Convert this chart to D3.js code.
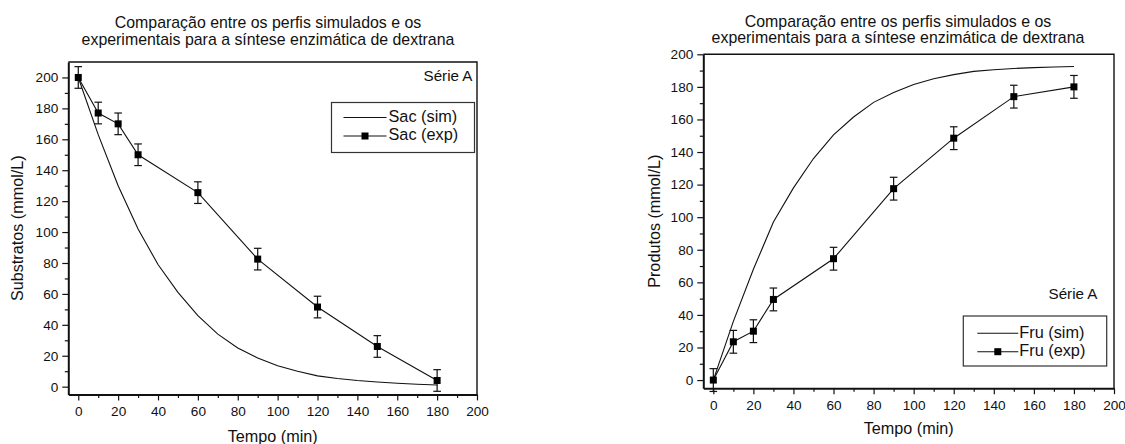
<!DOCTYPE html>
<html>
<head>
<meta charset="utf-8">
<script src="https://cdn.jsdelivr.net/npm/d3@7"></script>
<style>
  html, body { margin: 0; padding: 0; background: #fff; }
  svg { display: block; font-family: "Liberation Sans", Arial, Helvetica, sans-serif; }
</style>
</head>
<body>
<svg id="chart" width="1125" height="444"></svg>
<script>
// Time grid of the simulated profiles (min)
const tempoSim = [0, 10, 20, 30, 40, 50, 60, 70, 80, 90, 100, 110, 120, 130, 140, 150, 160, 170, 180];
// Sucrose consumption, simulated (mmol/L)
const sacSim = [200, 163, 130, 102, 79, 61, 46, 34, 25, 18.5, 13.5, 10, 7, 5.3, 4, 3, 2.2, 1.6, 1.1];
// Fructose formation, simulated (mmol/L)
const fruSim = [0, 36, 68, 97, 118, 136, 150.5, 161.5, 170.5, 176.5, 181.5, 185, 187.5, 189.5, 190.5, 191.3, 191.8, 192.2, 192.5];

// Sampling times of the experiments (min)
const tempoExp = [0, 10, 20, 30, 60, 90, 120, 150, 180];
const sacExp = [200, 177, 170, 150, 125.5, 82.5, 51.5, 26, 4];
const sacErr = [7, 7, 7, 7, 7, 7, 7, 7, 7];
const fruExp = [0, 23.5, 30, 49.5, 74.5, 117.5, 148.5, 174, 180];
const fruErr = [7, 7, 7, 7, 7, 7, 7, 7, 7];

// Axis ticks
const xTicks = [0, 20, 40, 60, 80, 100, 120, 140, 160, 180, 200];
const xMinor = [10, 30, 50, 70, 90, 110, 130, 150, 170, 190];
const yTicks = [0, 20, 40, 60, 80, 100, 120, 140, 160, 180, 200];
const yMinorSac = [10, 30, 50, 70, 90, 110, 130, 150, 170, 190];
const yMinorFru = [10, 30, 50, 70, 90, 110, 130, 150, 170, 190];

const titleLines = ["Comparação entre os perfis simulados e os",
                    "experimentais para a síntese enzimática de dextrana"];

const svg = d3.select("#chart");

function panel(cfg) {
  const x = d3.scaleLinear().domain([-5, 200]).range([cfg.left, cfg.right]);
  const y = d3.scaleLinear().domain(cfg.yDomain).range([cfg.bottom, cfg.top]);
  const g = svg.append("g");

  // title
  const t = g.append("text")
    .attr("x", cfg.titleX).attr("y", cfg.titleY)
    .attr("text-anchor", "middle").attr("font-size", 15.9).attr("fill", "#111");
  titleLines.forEach((s, i) => t.append("tspan").attr("x", cfg.titleX).attr("dy", i ? 16.8 : 0).text(s));

  // axes
  const fmt = d3.format("d");
  const xAx = g.append("g").attr("transform", `translate(0,${cfg.bottom})`)
    .call(d3.axisBottom(x).tickValues(xTicks).tickFormat(fmt).tickSize(6).tickPadding(6).tickSizeOuter(0));
  g.append("g").attr("transform", `translate(0,${cfg.bottom})`)
    .call(d3.axisBottom(x).tickValues(xMinor).tickFormat("").tickSize(3.5).tickSizeOuter(0))
    .select(".domain").remove();
  const yAx = g.append("g").attr("transform", `translate(${cfg.left},0)`)
    .call(d3.axisLeft(y).tickValues(yTicks).tickFormat(fmt).tickSize(6).tickPadding(4).tickSizeOuter(0));
  g.append("g").attr("transform", `translate(${cfg.left},0)`)
    .call(d3.axisLeft(y).tickValues(cfg.yMinor).tickFormat("").tickSize(3.5).tickSizeOuter(0))
    .select(".domain").remove();
  g.selectAll(".tick line").attr("stroke", "#111").attr("stroke-width", 1.2);
  g.selectAll(".tick text").attr("font-size", 13.6).attr("fill", "#111")
    .attr("font-family", '"Liberation Sans", Arial, Helvetica, sans-serif');
  xAx.select(".domain").attr("stroke", "#111").attr("stroke-width", 2);
  yAx.select(".domain").attr("stroke", "#111").attr("stroke-width", 2);

  // top and right frame
  g.append("path")
    .attr("d", `M${cfg.left},${cfg.top}H${cfg.right}V${cfg.bottom}`)
    .attr("fill", "none").attr("stroke", "#111").attr("stroke-width", 1.4);

  // axis titles
  g.append("text")
    .attr("x", (cfg.left + cfg.right) / 2).attr("y", cfg.xLabelY)
    .attr("text-anchor", "middle").attr("font-size", 16.2).attr("fill", "#111")
    .text("Tempo (min)");
  g.append("text")
    .attr("transform", `translate(${cfg.yLabelX},${(cfg.top + cfg.bottom) / 2}) rotate(-90)`)
    .attr("text-anchor", "middle").attr("font-size", 16.2).attr("fill", "#111")
    .text(cfg.yLabel);

  // simulated profile
  const line = d3.line().x(d => x(d[0])).y(d => y(d[1]));
  g.append("path")
    .datum(tempoSim.map((tv, i) => [tv, cfg.sim[i]]))
    .attr("d", line).attr("fill", "none").attr("stroke", "#111").attr("stroke-width", 1.1);

  // experimental profile
  const pts = tempoExp.map((tv, i) => [tv, cfg.exp[i], cfg.err[i]]);
  g.append("path").datum(pts)
    .attr("d", line).attr("fill", "none").attr("stroke", "#111").attr("stroke-width", 1.1);

  const eb = g.append("g").attr("stroke", "#111").attr("stroke-width", 1.2);
  pts.forEach(d => {
    const cx = x(d[0]), y1 = y(d[1] + d[2]), y2 = y(d[1] - d[2]);
    eb.append("line").attr("x1", cx).attr("x2", cx).attr("y1", y1).attr("y2", y2);
    eb.append("line").attr("x1", cx - 3.8).attr("x2", cx + 3.8).attr("y1", y1).attr("y2", y1);
    eb.append("line").attr("x1", cx - 3.8).attr("x2", cx + 3.8).attr("y1", y2).attr("y2", y2);
  });
  g.append("g").selectAll("rect").data(pts).join("rect")
    .attr("x", d => x(d[0]) - 3.5).attr("y", d => y(d[1]) - 3.5)
    .attr("width", 7).attr("height", 7).attr("fill", "#000");

  // series label
  g.append("text")
    .attr("x", cfg.serieX).attr("y", cfg.serieY)
    .attr("text-anchor", "end").attr("dominant-baseline", "middle")
    .attr("font-size", 15.2).attr("fill", "#111").text("Série A");

  // legend
  const L = cfg.legend;
  g.append("rect").attr("x", L.x0).attr("y", L.y0)
    .attr("width", L.x1 - L.x0).attr("height", L.y1 - L.y0)
    .attr("fill", "#fff").attr("stroke", "#333").attr("stroke-width", 1.2);
  cfg.legendNames.forEach((name, i) => {
    const ry = L.rows[i];
    g.append("line").attr("x1", L.lx0).attr("x2", L.lx1).attr("y1", ry).attr("y2", ry)
      .attr("stroke", "#111").attr("stroke-width", 1.1);
    if (i === 1) {
      g.append("rect").attr("x", (L.lx0 + L.lx1) / 2 - 3.5).attr("y", ry - 3.5)
        .attr("width", 7).attr("height", 7).attr("fill", "#000");
    }
    g.append("text").attr("x", L.tx).attr("y", ry)
      .attr("dominant-baseline", "middle").attr("font-size", 16.3).attr("fill", "#111")
      .text(name);
  });
}

panel({
  left: 68.3, right: 477, top: 62, bottom: 394.4, yDomain: [-5, 210],
  yMinor: yMinorSac,
  titleX: 268, titleY: 28,
  xLabelY: 442, yLabelX: 23, yLabel: "Substratos (mmol/L)",
  sim: sacSim, exp: sacExp, err: sacErr,
  serieX: 472.5, serieY: 77,
  legend: { x0: 331.5, x1: 474.5, y0: 102.5, y1: 152.5, lx0: 343.5, lx1: 386.5, tx: 388.5, rows: [117.5, 136] },
  legendNames: ["Sac (sim)", "Sac (exp)"]
});

panel({
  left: 703.3, right: 1114, top: 54.3, bottom: 388.2, yDomain: [-5, 200],
  yMinor: yMinorFru,
  titleX: 898, titleY: 26.5,
  xLabelY: 434, yLabelX: 660, yLabel: "Produtos (mmol/L)",
  sim: fruSim, exp: fruExp, err: fruErr,
  serieX: 1097.5, serieY: 295,
  legend: { x0: 963.3, x1: 1106.7, y0: 316, y1: 366, lx0: 977.3, lx1: 1018.3, tx: 1019.3, rows: [333.3, 351.7] },
  legendNames: ["Fru (sim)", "Fru (exp)"]
});
</script>
</body>
</html>
